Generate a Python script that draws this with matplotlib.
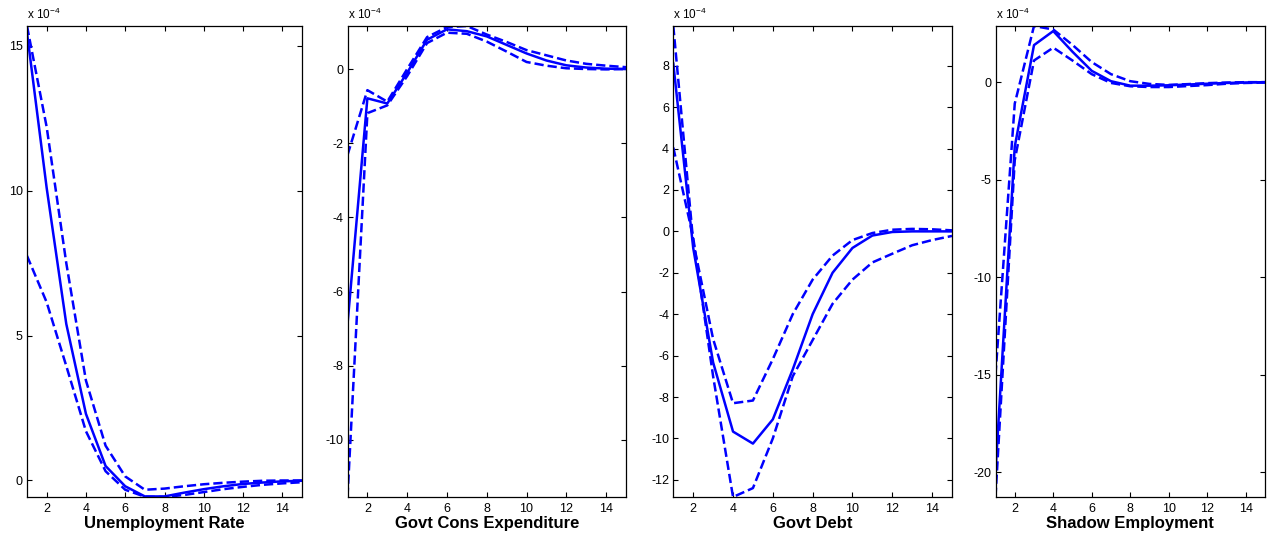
import numpy as np
import matplotlib
matplotlib.use("Agg")
import matplotlib.pyplot as plt

plt.rcParams['font.family'] = ['Liberation Sans', 'DejaVu Sans']
plt.rcParams['axes.unicode_minus'] = False
plt.rcParams['mathtext.default'] = 'regular'

# horizon (quarters) and responses, in units of 1e-4
horizon = np.arange(1, 16)

titles = ["Unemployment Rate", "Govt Cons Expenditure", "Govt Debt", "Shadow Employment"]

unemp_mid = [15.45, 10.1, 5.4, 2.3, 0.5, -0.2, -0.55, -0.55, -0.42, -0.3, -0.2, -0.12, -0.07, -0.03, -0.01]
unemp_hi = [15.68, 12.2, 7.5, 3.45, 1.2, 0.14, -0.32, -0.28, -0.2, -0.13, -0.08, -0.04, -0.01, 0.0, 0.0]
unemp_lo = [7.75, 6.15, 3.95, 1.7, 0.32, -0.32, -0.56, -0.57, -0.5, -0.4, -0.3, -0.22, -0.15, -0.1, -0.06]

gov_mid = [-6.88, -0.79, -0.93, -0.1, 0.79, 1.07, 1.02, 0.88, 0.65, 0.42, 0.23, 0.1, 0.04, 0.01, 0.0]
gov_hi = [-2.32, -0.57, -0.88, 0.0, 0.86, 1.13, 1.16, 0.93, 0.73, 0.51, 0.37, 0.23, 0.14, 0.09, 0.05]
gov_lo = [-11.54, -1.19, -0.98, -0.19, 0.7, 0.98, 0.95, 0.74, 0.47, 0.19, 0.09, 0.02, 0.0, -0.01, 0.0]

debt_mid = [8.1, -0.8, -6.33, -9.67, -10.25, -9.08, -6.67, -4.0, -2.0, -0.8, -0.2, -0.03, 0.0, 0.0, 0.0]
debt_hi = [9.92, -0.5, -5.2, -8.3, -8.17, -6.17, -4.0, -2.33, -1.17, -0.42, -0.08, 0.08, 0.12, 0.1, 0.05]
debt_lo = [4.05, -0.3, -7.0, -12.83, -12.4, -10.0, -7.0, -5.25, -3.5, -2.33, -1.5, -1.08, -0.67, -0.42, -0.22]

shadow_mid = [-20.0, -3.3, 1.9, 2.62, 1.56, 0.58, 0.05, -0.18, -0.18, -0.16, -0.12, -0.08, -0.04, -0.02, 0.0]
shadow_hi = [-15.0, -1.1, 2.88, 2.7, 1.91, 1.03, 0.41, 0.05, -0.09, -0.14, -0.1, -0.05, -0.02, 0.0, 0.0]
shadow_lo = [-21.27, -4.0, 1.11, 1.77, 1.11, 0.41, -0.04, -0.21, -0.25, -0.25, -0.2, -0.15, -0.08, -0.04, -0.02]

series = [
    (unemp_mid, unemp_hi, unemp_lo),
    (gov_mid, gov_hi, gov_lo),
    (debt_mid, debt_hi, debt_lo),
    (shadow_mid, shadow_hi, shadow_lo),
]
yticks = [
    [0, 5, 10, 15],
    [-10, -8, -6, -4, -2, 0],
    [-12, -10, -8, -6, -4, -2, 0, 2, 4, 6, 8],
    [-20, -15, -10, -5, 0],
]

W, H = 1277, 541
fig = plt.figure(figsize=(W / 100, H / 100), dpi=100)

# panel edges in pixels: left, right
edges = [(27, 302), (347.5, 626), (673.3, 952), (995.5, 1265)]
top, bottom = 26, 497

for (l, r), (mid, hi, lo), title, yt in zip(edges, series, titles, yticks):
    ax = fig.add_axes([l / W, (H - bottom) / H, (r - l) / W, (bottom - top) / H])
    ax.plot(horizon, mid, color='#0000ff', lw=1.8)
    ax.plot(horizon, hi, color='#0000ff', lw=1.8, ls='--')
    ax.plot(horizon, lo, color='#0000ff', lw=1.8, ls='--')

    allv = np.concatenate([mid, hi, lo])
    ax.set_xlim(1, 15)
    ax.set_ylim(allv.min(), allv.max())
    ax.set_xticks(range(2, 15, 2))
    ax.set_yticks(yt)

    ax.tick_params(direction='in', length=3.5, width=0.8, top=True, right=True,
                   labelsize=9, colors='black')
    ax.tick_params(axis='x', pad=4)
    ax.tick_params(axis='y', pad=3)
    for sp in ax.spines.values():
        sp.set_linewidth(0.9)
        sp.set_color('black')

    ax.set_xlabel(title, fontsize=12, fontweight='bold', labelpad=1)
    ax.annotate(r'x 10$^{-4}$', xy=(0, 1), xycoords='axes fraction',
                xytext=(0, 3), textcoords='offset points',
                ha='left', va='bottom', fontsize=8.5)

fig.savefig("out.png", dpi=100)
